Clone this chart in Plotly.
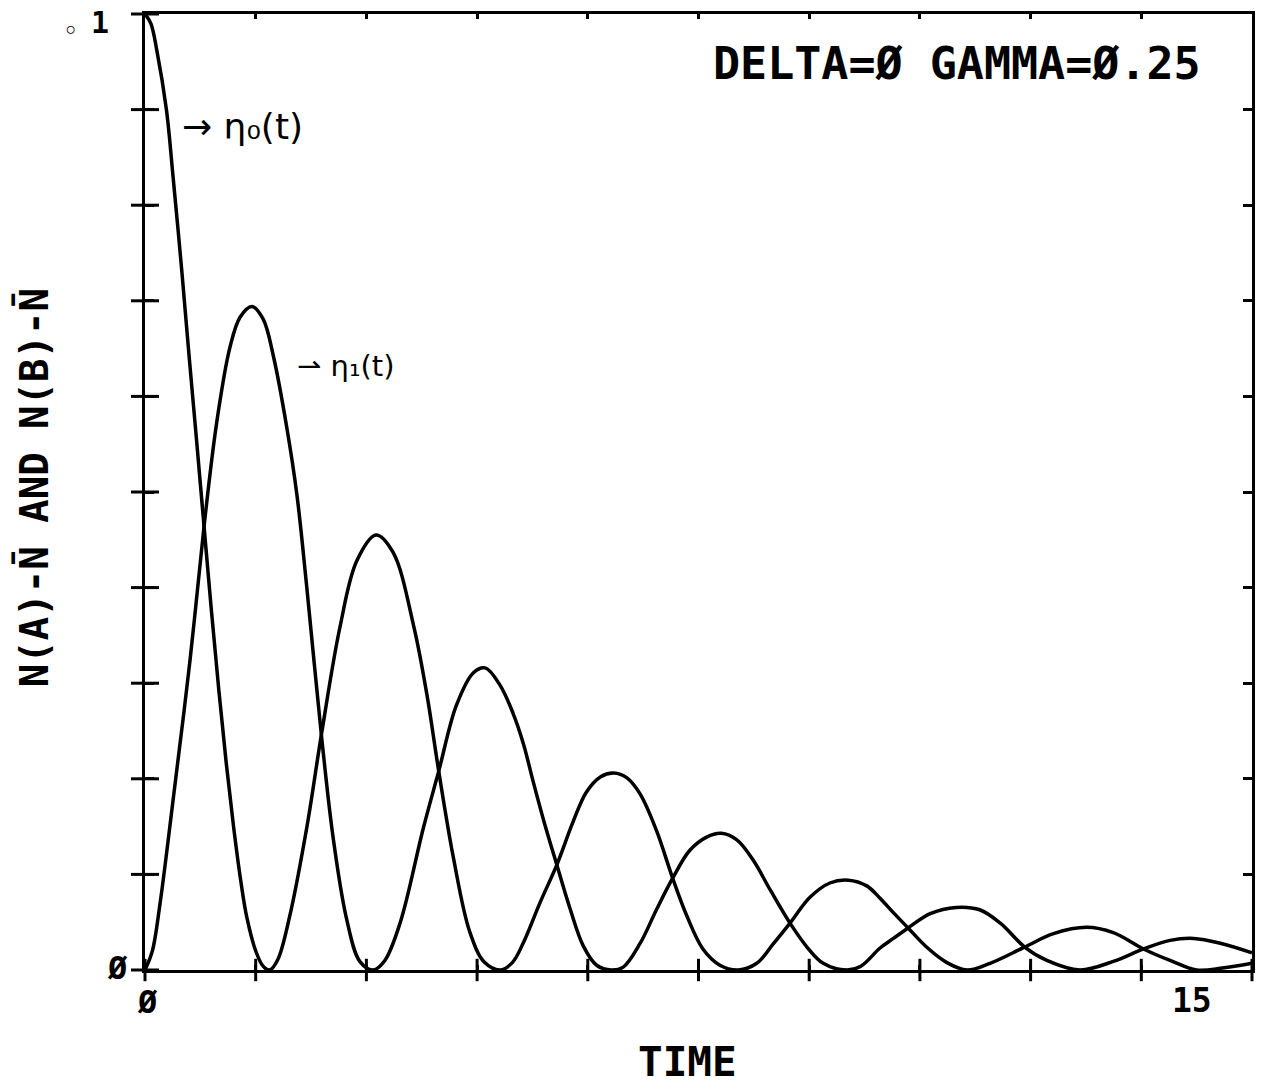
import plotly.graph_objects as go

# ---- data ----
t_n0 = [0.0, 0.08, 0.16, 0.29, 0.38, 0.5, 0.6, 0.7, 0.8, 0.9, 1.0, 1.1, 1.2, 1.3, 1.38, 1.5, 1.6, 1.69,
        1.8, 1.96, 2.19, 2.39, 2.64, 2.87, 3.13, 3.36, 3.64, 3.82, 3.98, 4.18, 4.40, 4.6, 4.82,
        4.98, 5.13, 5.35, 5.58, 5.80, 5.98, 6.17, 6.35, 6.53, 6.71, 6.93, 7.15, 7.34, 7.56, 7.79, 8.04,
        8.29, 8.51, 8.74, 9.01, 9.28, 9.53, 9.78, 9.96, 10.14, 10.34, 10.59, 10.86, 11.14,
        11.45, 11.92, 12.31, 12.76, 13.12, 13.53, 13.89, 14.25, 14.6, 15.0]
n0 = [1.0, 0.99, 0.962, 0.90, 0.83, 0.73, 0.64, 0.553, 0.464, 0.376, 0.293, 0.217, 0.15, 0.092, 0.055, 0.02, 0.004, 0.0,
      0.011, 0.056, 0.148, 0.246, 0.358, 0.428, 0.455, 0.437, 0.36, 0.288, 0.208, 0.117, 0.040, 0.008, 0.0,
      0.008, 0.029, 0.070, 0.110, 0.155, 0.186, 0.202, 0.206, 0.201, 0.184, 0.146, 0.096, 0.057, 0.022, 0.005, 0.0,
      0.007, 0.027, 0.049, 0.076, 0.091, 0.094, 0.088, 0.075, 0.060, 0.044, 0.024, 0.008, 0.0,
      0.007, 0.024, 0.038, 0.0446, 0.039, 0.022, 0.010, 0.0, 0.002, 0.007]

t_n1 = [0.0, 0.1, 0.203, 0.384, 0.61, 0.80, 0.97, 1.15, 1.29, 1.45, 1.60, 1.74, 1.92, 2.06, 2.19, 2.39, 2.55, 2.73, 2.91, 3.09,
        3.25, 3.46, 3.77, 3.98, 4.22, 4.45, 4.61, 4.81, 4.99, 5.13, 5.26, 5.40, 5.58, 5.76, 5.94, 6.12, 6.32,
        6.48, 6.71, 6.93, 7.15, 7.38, 7.61, 7.81, 8.02, 8.24, 8.47, 8.74, 8.97, 9.19, 9.51,
        9.7, 9.96, 10.14, 10.34, 10.64, 10.99, 11.31, 11.59, 11.92, 12.22, 12.67,
        13.12, 13.53, 13.89, 14.21, 14.57, 15.0]
n1 = [0.0, 0.02, 0.069, 0.180, 0.324, 0.464, 0.572, 0.651, 0.683, 0.694, 0.681, 0.642, 0.568, 0.496, 0.402, 0.246, 0.138, 0.054, 0.009, 0.0,
      0.01, 0.05, 0.148, 0.208, 0.277, 0.311, 0.316, 0.298, 0.268, 0.236, 0.197, 0.157, 0.110, 0.064, 0.025, 0.005, 0.0,
      0.003, 0.028, 0.063, 0.096, 0.125, 0.139, 0.143, 0.136, 0.115, 0.084, 0.049, 0.024, 0.007, 0.0,
      0.004, 0.023, 0.033, 0.044, 0.059, 0.0655, 0.063, 0.049, 0.024, 0.010, 0.0,
      0.009, 0.022, 0.031, 0.033, 0.028, 0.018]

x_ticks = [0, 1.5, 3, 4.5, 6, 7.5, 9, 10.5, 12, 13.5, 15]
y_ticks = [0, 0.1, 0.2, 0.3, 0.4, 0.5, 0.6, 0.7, 0.8, 0.9, 1.0]

FONT = "DejaVu Sans Mono"

fig = go.Figure()
line = dict(color="black", width=3.5, shape="spline", smoothing=1.0)
fig.add_trace(go.Scatter(x=t_n0, y=n0, mode="lines", line=line, hoverinfo="skip"))
fig.add_trace(go.Scatter(x=t_n1, y=n1, mode="lines", line=line, hoverinfo="skip"))

# crossing tick marks on the left and bottom axes (plotter style), placed at the tick values
fig.add_trace(go.Scatter(x=[0] * len(y_ticks), y=y_ticks, mode="markers", cliponaxis=False,
                         marker=dict(symbol="line-ew", size=20, line=dict(color="black", width=3)),
                         hoverinfo="skip"))
fig.add_trace(go.Scatter(x=x_ticks, y=[0] * len(x_ticks), mode="markers", cliponaxis=False,
                         marker=dict(symbol="line-ns", size=16, line=dict(color="black", width=3)),
                         hoverinfo="skip"))

axis_common = dict(showgrid=False, zeroline=False, showticklabels=False)
fig.update_layout(
    width=1267, height=1088,
    margin=dict(l=145, r=15, t=14, b=118),
    paper_bgcolor="white", plot_bgcolor="white",
    showlegend=False,
    xaxis=dict(range=[0, 15], tickvals=x_ticks, ticks="inside", ticklen=5, tickwidth=3,
               tickcolor="black", showline=True, linewidth=3, linecolor="black", mirror="ticks",
               **axis_common),
    yaxis=dict(range=[0, 1], tickvals=y_ticks, ticks="inside", ticklen=9, tickwidth=3,
               tickcolor="black", showline=True, linewidth=3, linecolor="black", mirror="ticks",
               **axis_common),
)

def label(text, x, y, size, angle=0, family=FONT, weight="bold"):
    fig.add_annotation(text=text, x=x, y=y, xref="paper", yref="paper", showarrow=False,
                       xanchor="center", yanchor="middle", textangle=angle,
                       font=dict(family=family, size=size, color="black", weight=weight))

label("DELTA=Ø GAMMA=Ø.25", 0.7335, 0.9487, 45)
label("TIME", 0.4905, -0.096, 41)
label("N(A)-N\u0304 AND N(B)-N\u0304", -0.1003, 0.505, 39, angle=-90)
label("Ø", -0.0244, 0.002, 32)
label("Ø", 0.0027, -0.0335, 32)
label("15", 0.9458, -0.0314, 33)
label("\u25e6", -0.0677, 0.983, 22)
label("1", -0.0406, 0.9916, 30)
label("\u2192 \u03b7\u2080(t)", 0.0885, 0.882, 36, family="DejaVu Sans", weight="normal")
label("\u21c0 \u03b7\u2081(t)", 0.1815, 0.632, 29, family="DejaVu Sans", weight="normal")

fig.write_html("out.html")
